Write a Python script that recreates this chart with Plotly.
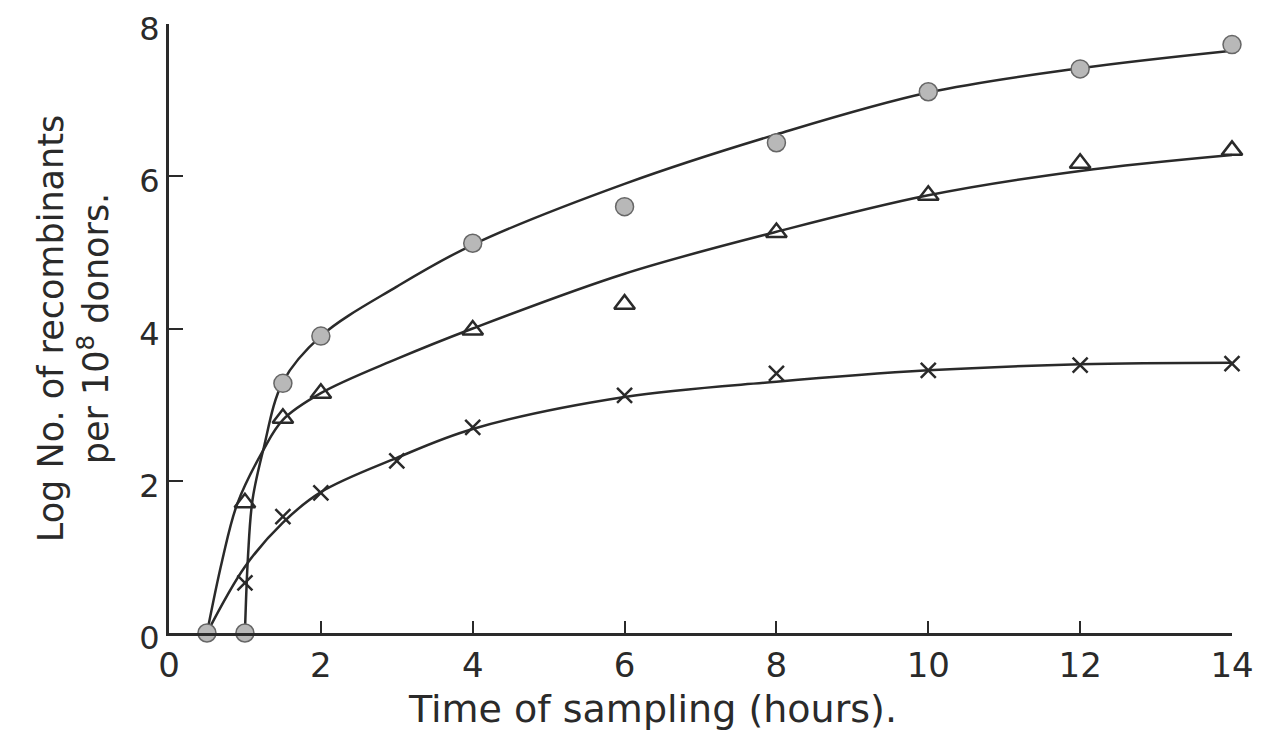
import plotly.graph_objects as go

# Observed data points
circ_x = [0.5, 1, 1.5, 2, 4, 6, 8, 10, 12, 14]
circ_y = [0, 0, 3.28, 3.9, 5.12, 5.6, 6.44, 7.11, 7.41, 7.73]

tri_x = [1, 1.5, 2, 4, 6, 8, 10, 12, 14]
tri_y = [1.71, 2.82, 3.15, 3.98, 4.32, 5.26, 5.75, 6.17, 6.34]

cross_x = [1, 1.5, 2, 3, 4, 6, 8, 10, 12, 14]
cross_y = [0.66, 1.53, 1.84, 2.26, 2.7, 3.12, 3.41, 3.45, 3.52, 3.54]

# Hand-drawn fitted curves
circ_curve_x = [1.0, 1.04, 1.1, 1.24, 1.5, 2, 3, 4, 6, 8, 10, 12, 14]
circ_curve_y = [0, 1.0, 1.75, 2.4, 3.3, 3.9, 4.55, 5.1, 5.9, 6.55, 7.1, 7.42, 7.65]

tri_curve_x = [0.5, 0.7, 0.9, 1.24, 1.5, 2, 3, 4, 6, 8, 10, 12, 14]
tri_curve_y = [0, 0.95, 1.7, 2.4, 2.8, 3.15, 3.6, 4.0, 4.72, 5.27, 5.75, 6.07, 6.28]

cross_curve_x = [0.5, 1, 1.5, 2, 3, 4, 6, 8, 10, 12, 14]
cross_curve_y = [0, 0.87, 1.45, 1.85, 2.3, 2.68, 3.1, 3.3, 3.45, 3.53, 3.55]

x_ticks = [0, 2, 4, 6, 8, 10, 12, 14]
y_ticks = [0, 2, 4, 6, 8]

x_title = "Time of sampling (hours)."
y_title = "Log No. of recombinants<br>per 10<sup>8</sup> donors."

ink = "#2a2a2a"
font = "DejaVu Sans"

fig = go.Figure()
for cx, cy in [(circ_curve_x, circ_curve_y), (tri_curve_x, tri_curve_y), (cross_curve_x, cross_curve_y)]:
    fig.add_trace(go.Scatter(x=cx, y=cy, mode="lines",
                             line=dict(color=ink, width=2.5, shape="spline", smoothing=1.0),
                             showlegend=False, hoverinfo="skip", cliponaxis=False))

fig.add_trace(go.Scatter(x=circ_x, y=circ_y, mode="markers", cliponaxis=False, showlegend=False,
                         marker=dict(symbol="circle", size=18, color="#b8b8b8",
                                     line=dict(color="#666666", width=1.5))))
fig.add_trace(go.Scatter(x=tri_x, y=tri_y, mode="markers", cliponaxis=False, showlegend=False,
                         marker=dict(symbol="triangle-up-open", size=18, color=ink,
                                     line=dict(color=ink, width=2.5))))
fig.add_trace(go.Scatter(x=cross_x, y=cross_y, mode="markers", cliponaxis=False, showlegend=False,
                         marker=dict(symbol="x-thin", size=15, color=ink,
                                     line=dict(color=ink, width=2.5))))

fig.add_annotation(text=x_title, xref="paper", yref="paper", x=0.455, y=0,
                   xanchor="center", yanchor="middle", yshift=-76, showarrow=False,
                   font=dict(size=38, family=font, color=ink))

fig.update_layout(
    width=1264, height=754,
    paper_bgcolor="white", plot_bgcolor="white",
    margin=dict(l=161, r=40, t=16, b=129),
    font=dict(family=font, color=ink, size=34),
    xaxis=dict(range=[0, 14], tickvals=x_ticks, ticktext=[str(v) for v in x_ticks],
               automargin=False,
               showgrid=False, zeroline=False, showline=True, linecolor=ink, linewidth=3,
               ticks="inside", ticklen=12, tickwidth=2, tickcolor=ink,
               ticklabeloverflow="allow",
               tickfont=dict(size=34, family=font)),
    yaxis=dict(range=[0, 8], tickvals=y_ticks, ticktext=[str(v) for v in y_ticks],
               automargin=False,
               showgrid=False, zeroline=False, showline=True, linecolor=ink, linewidth=3,
               ticks="inside", ticklen=14, tickwidth=2, tickcolor=ink,
               ticklabeloverflow="allow", ticklabelshift=5,
               tickfont=dict(size=32, family=font),
               title=dict(text=y_title, font=dict(size=35, family=font), standoff=20)),
)

fig.write_html("out.html")
